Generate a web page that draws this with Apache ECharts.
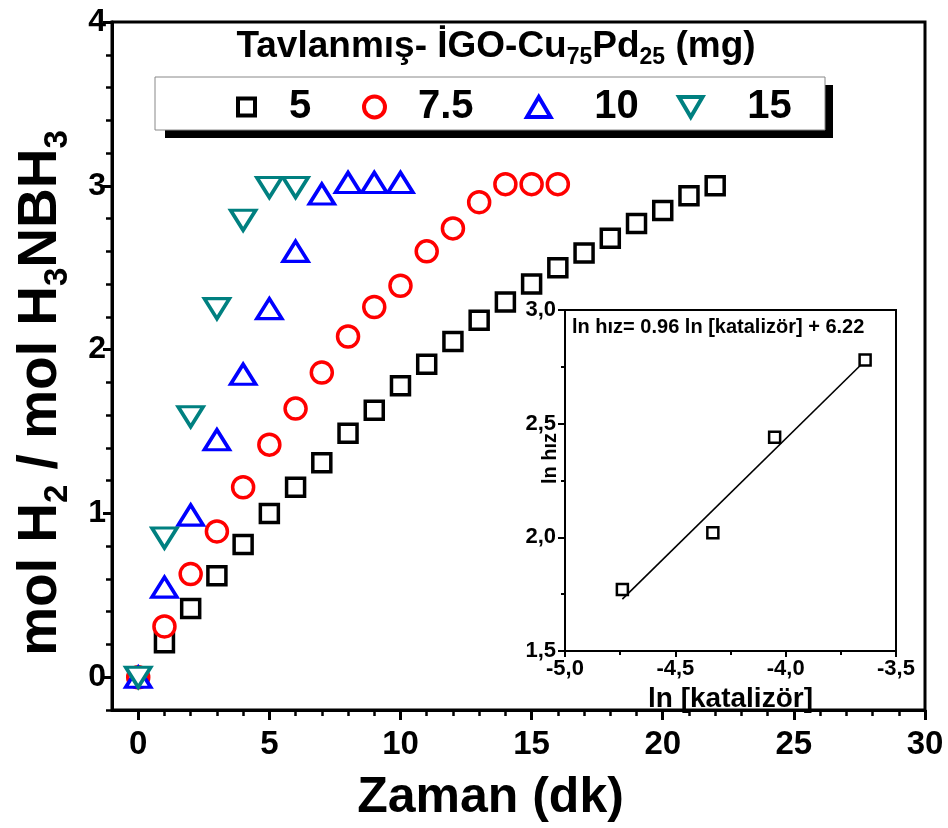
<!DOCTYPE html>
<html>
<head>
<meta charset="utf-8">
<script src="https://cdn.jsdelivr.net/npm/echarts@6/dist/echarts.min.js"></script>
<style>
  html, body { margin: 0; padding: 0; background: #fff; }
  #chart { width: 948px; height: 828px; }
</style>
</head>
<body>
<div id="chart"></div>
<script>
// Hydrogen evolution vs. time for four catalyst loadings
const time5 = [0, 1, 2, 3, 4, 5, 6, 7, 8, 9, 10, 11, 12, 13, 14, 15, 16, 17, 18, 19, 20, 21, 22];
const h2_5 = [0, 0.21, 0.42, 0.62, 0.81, 1.00, 1.16, 1.31, 1.49, 1.63, 1.78, 1.91, 2.05, 2.18, 2.29, 2.40, 2.50, 2.59, 2.68, 2.77, 2.85, 2.94, 3.00];

const time75 = [0, 1, 2, 3, 4, 5, 6, 7, 8, 9, 10, 11, 12, 13, 14, 15, 16];
const h2_75 = [0, 0.31, 0.63, 0.89, 1.16, 1.42, 1.64, 1.86, 2.08, 2.26, 2.39, 2.60, 2.74, 2.90, 3.01, 3.01, 3.01];

const time10 = [0, 1, 2, 3, 4, 5, 6, 7, 8, 9, 10];
const h2_10 = [0, 0.55, 0.99, 1.45, 1.85, 2.25, 2.60, 2.95, 3.02, 3.02, 3.02];

const time15 = [0, 1, 2, 3, 4, 5, 6];
const h2_15 = [0, 0.85, 1.59, 2.25, 2.79, 2.99, 2.99];

const seriesNames = ['5', '7.5', '10', '15'];
const seriesColors = ['#000000', '#ff0000', '#0000ff', '#008080'];

// ln(rate) vs ln[catalyst] for the inset
const lnCatalyst = [-4.74, -4.33, -4.05, -3.64];
const lnRate = [1.77, 2.02, 2.44, 2.78];

// Axis tick positions
const xMajorTicks = [0, 5, 10, 15, 20, 25, 30];
const xMinorTicks = [0, 1, 2, 3, 4, 5, 6, 7, 8, 9, 10, 11, 12, 13, 14, 15, 16, 17, 18, 19, 20, 21, 22, 23, 24, 25, 26, 27, 28, 29, 30];
const yMajorTicks = [0, 1, 2, 3, 4];
const yMinorTicks = [-0.2, 0, 0.2, 0.4, 0.6, 0.8, 1, 1.2, 1.4, 1.6, 1.8, 2, 2.2, 2.4, 2.6, 2.8, 3, 3.2, 3.4, 3.6, 3.8, 4];

const FONT = '"Liberation Sans", Arial, sans-serif';

function zip(xs, ys) { return xs.map((x, i) => [x, ys[i]]); }

// Least-squares line through the inset points
function fitLine(xs, ys) {
  const n = xs.length;
  const mx = xs.reduce((a, b) => a + b, 0) / n;
  const my = ys.reduce((a, b) => a + b, 0) / n;
  let sxy = 0, sxx = 0;
  for (let i = 0; i < n; i++) { sxy += (xs[i] - mx) * (ys[i] - my); sxx += (xs[i] - mx) ** 2; }
  const k = sxy / sxx, b = my - k * mx;
  const x0 = Math.min(...xs), x1 = Math.max(...xs);
  return [[x0, k * x0 + b], [x1, k * x1 + b]];
}

const chart = echarts.init(document.getElementById('chart'), null, { renderer: 'canvas' });

const subRich = {
  n: { fontSize: 55, fontWeight: 'bold', fontFamily: FONT, color: '#000', lineHeight: 66 },
  s: { fontSize: 33, fontWeight: 'bold', fontFamily: FONT, color: '#000', lineHeight: 24, verticalAlign: 'bottom' }
};

function commaFmt(v) { return v.toFixed(1).replace('.', ','); }

const legendText = { fontSize: 40, fontWeight: 'bold', fontFamily: FONT, color: '#000' };

// Legend icons (hollow markers)
const legendIcons = [
  'path://M0,0L20,0L20,20L0,20Z',
  'circle',
  'path://M10,0L20,17L0,17Z',
  'path://M0,0L20,0L10,17Z'
];
const legendPos = [
  { left: 231, w: 17, h: 17, pad: 29 },
  { left: 357, w: 21, h: 21, pad: 28 },
  { left: 520, w: 25, h: 20, pad: 38 },
  { left: 672, w: 25, h: 20, pad: 39 }
];

const legends = seriesNames.map((name, i) => ({
  data: [{ name: name, icon: legendIcons[i], itemStyle: { color: '#fff', borderColor: seriesColors[i], borderWidth: 4 } }],
  left: legendPos[i].left, top: 82, itemWidth: legendPos[i].w, itemHeight: legendPos[i].h, itemGap: 0, z: 10,
  itemStyle: { color: '#fff', borderColor: seriesColors[i], borderWidth: 4 },
  textStyle: Object.assign({ padding: [0, 0, 0, legendPos[i].pad] }, legendText)
}));

const option = {
  animation: false,
  backgroundColor: '#fff',
  grid: [
    { left: 112, right: 23, top: 22, bottom: 115, show: true, borderColor: '#000', borderWidth: 3, backgroundColor: 'transparent' },
    { left: 565, right: 52, top: 310, bottom: 177, show: true, borderColor: '#000', borderWidth: 2, backgroundColor: '#fff', z: 3 }
  ],
  xAxis: [
    {
      gridIndex: 0, type: 'value', min: -1, max: 30, position: 'bottom',
      axisLine: { show: true, onZero: false, lineStyle: { color: '#000', width: 3 } },
      axisTick: { show: true, inside: false, length: 10, lineStyle: { color: '#000', width: 3 }, customValues: xMajorTicks },
      axisLabel: { customValues: xMajorTicks, fontSize: 33, fontWeight: 'bold', fontFamily: FONT, color: '#000', margin: 18 },
      splitLine: { show: false },
      name: 'Zaman (dk)', nameLocation: 'middle', nameGap: 63, nameMoveOverlap: false,
      nameTextStyle: { fontSize: 50, fontWeight: 'bold', fontFamily: FONT, color: '#000', padding: [0, 56, 0, 0] }
    },
    {
      gridIndex: 0, type: 'value', min: -1, max: 30, position: 'bottom',
      axisLine: { show: false, onZero: false },
      axisTick: { show: true, inside: false, length: 6, lineStyle: { color: '#000', width: 2.5 }, customValues: xMinorTicks },
      axisLabel: { show: false },
      splitLine: { show: false }
    },
    {
      gridIndex: 1, type: 'value', min: -5, max: -3.5, interval: 0.5, position: 'bottom',
      axisLine: { show: true, onZero: false, lineStyle: { color: '#000', width: 2 } },
      axisTick: { show: true, inside: false, length: 6, lineStyle: { color: '#000', width: 2 } },
      minorTick: { show: true, splitNumber: 2, length: 4, lineStyle: { color: '#000', width: 2 } },
      axisLabel: { formatter: commaFmt, fontSize: 22, fontWeight: 'bold', fontFamily: FONT, color: '#000', margin: 7 },
      splitLine: { show: false },
      name: 'ln [katalizör]', nameLocation: 'middle', nameGap: 34, nameMoveOverlap: false,
      nameTextStyle: { fontSize: 28, fontWeight: 'bold', fontFamily: FONT, color: '#000' }
    }
  ],
  yAxis: [
    {
      gridIndex: 0, type: 'value', min: -0.2, max: 4, position: 'left',
      axisLine: { show: true, onZero: false, lineStyle: { color: '#000', width: 3 } },
      axisTick: { show: true, inside: false, length: 9, lineStyle: { color: '#000', width: 3 }, customValues: yMajorTicks },
      axisLabel: { customValues: yMajorTicks, fontSize: 32, fontWeight: 'bold', fontFamily: FONT, color: '#000', margin: 6 },
      splitLine: { show: false },
      name: '{n|mol H}{s|2}{n| / mol H}{s|3}{n|NBH}{s|3}', nameLocation: 'middle', nameGap: 38, nameRotate: 90, nameMoveOverlap: false,
      nameTextStyle: { color: '#000', padding: [0, 54, 0, 0], rich: subRich }
    },
    {
      gridIndex: 0, type: 'value', min: -0.2, max: 4, position: 'left',
      axisLine: { show: false, onZero: false },
      axisTick: { show: true, inside: false, length: 6, lineStyle: { color: '#000', width: 2.5 }, customValues: yMinorTicks },
      axisLabel: { show: false },
      splitLine: { show: false }
    },
    {
      gridIndex: 1, type: 'value', min: 1.5, max: 3.0, interval: 0.5, position: 'left',
      axisLine: { show: true, onZero: false, lineStyle: { color: '#000', width: 2 } },
      axisTick: { show: true, inside: false, length: 7, lineStyle: { color: '#000', width: 2 } },
      minorTick: { show: true, splitNumber: 2, length: 4, lineStyle: { color: '#000', width: 2 } },
      axisLabel: { formatter: commaFmt, fontSize: 22, fontWeight: 'bold', fontFamily: FONT, color: '#000', margin: 9 },
      splitLine: { show: false },
      name: 'ln hız', nameLocation: 'middle', nameGap: 5, nameRotate: 90, nameMoveOverlap: false,
      nameTextStyle: { fontSize: 20, fontWeight: 'bold', fontFamily: FONT, color: '#000', padding: [0, 0, 0, 44] }
    }
  ],
  legend: legends,
  graphic: [
    // legend frame with drop shadow
    { type: 'rect', z: 5, shape: { x: 165, y: 85, width: 668, height: 53 }, style: { fill: '#000' } },
    { type: 'rect', z: 6, shape: { x: 155, y: 77, width: 670, height: 53 }, style: { fill: '#fff', stroke: '#888', lineWidth: 1 } },
    // legend title
    { type: 'text', z: 10, x: 496, y: 47,
      style: {
        text: '{n|Tavlanmış- İGO-Cu}{s|75}{n|Pd}{s|25}{n| (mg)}',
        align: 'center', verticalAlign: 'middle',
        rich: {
          n: { fontSize: 37, fontWeight: 'bold', fontFamily: FONT, fill: '#000', lineHeight: 44 },
          s: { fontSize: 23, fontWeight: 'bold', fontFamily: FONT, fill: '#000', lineHeight: 16, verticalAlign: 'bottom' }
        }
      } },
    // fitted-line equation inside the inset
    { type: 'text', z: 10, x: 572, y: 327,
      style: { text: 'ln hız= 0.96 ln [katalizör] + 6.22', fontSize: 20, fontWeight: 'bold', fontFamily: FONT, fill: '#000', align: 'left', verticalAlign: 'middle' } }
  ],
  series: [
    { name: seriesNames[0], type: 'scatter', xAxisIndex: 0, yAxisIndex: 0, data: zip(time5, h2_5),
      symbol: 'rect', symbolSize: 18, itemStyle: { color: '#fff', borderColor: seriesColors[0], borderWidth: 3.5, opacity: 1 } },
    { name: seriesNames[1], type: 'scatter', xAxisIndex: 0, yAxisIndex: 0, data: zip(time75, h2_75),
      symbol: 'circle', symbolSize: 21, itemStyle: { color: '#fff', borderColor: seriesColors[1], borderWidth: 3.5, opacity: 1 } },
    { name: seriesNames[2], type: 'scatter', xAxisIndex: 0, yAxisIndex: 0, data: zip(time10, h2_10),
      symbol: 'triangle', symbolSize: [25, 20], itemStyle: { color: '#fff', borderColor: seriesColors[2], borderWidth: 3.5, opacity: 1 } },
    { name: seriesNames[3], type: 'scatter', xAxisIndex: 0, yAxisIndex: 0, data: zip(time15, h2_15),
      symbol: 'triangle', symbolRotate: 180, symbolSize: [25, 20], itemStyle: { color: '#fff', borderColor: seriesColors[3], borderWidth: 3.5, opacity: 1 } },
    { name: 'fit', type: 'line', xAxisIndex: 2, yAxisIndex: 2, data: fitLine(lnCatalyst, lnRate), z: 4,
      showSymbol: false, symbol: 'none', lineStyle: { color: '#000', width: 1.6 } },
    { name: 'ln', type: 'scatter', xAxisIndex: 2, yAxisIndex: 2, data: zip(lnCatalyst, lnRate), z: 5,
      symbol: 'rect', symbolSize: 11, itemStyle: { color: '#fff', borderColor: '#000', borderWidth: 2.5, opacity: 1 } }
  ]
};

chart.setOption(option);
</script>
</body>
</html>
